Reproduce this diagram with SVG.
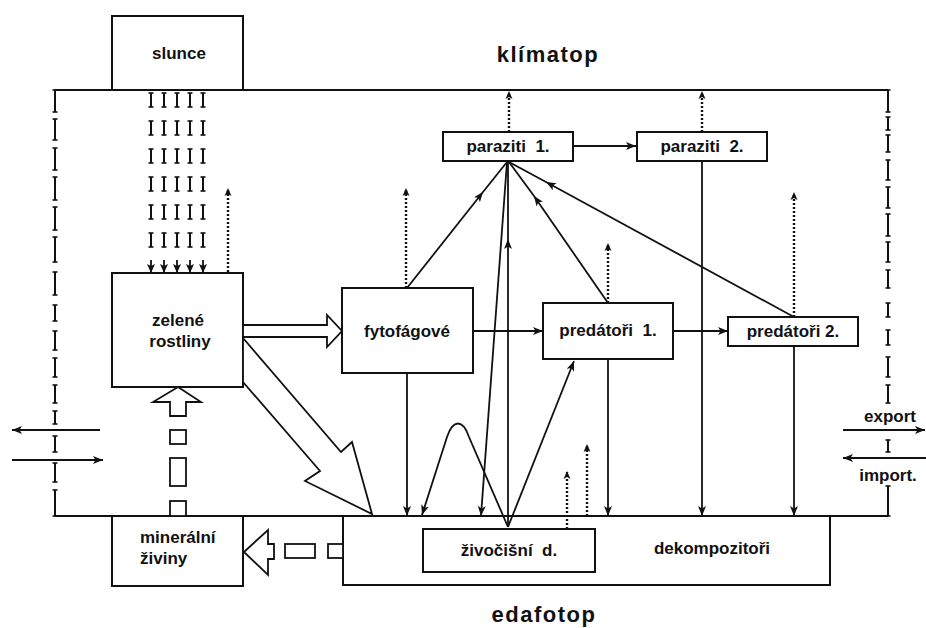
<svg xmlns="http://www.w3.org/2000/svg" width="926" height="628" viewBox="0 0 926 628">
  <style>
    .box { fill: #fff; stroke: #111; stroke-width: 2; }
    .ln { fill: none; stroke: #111; stroke-width: 1.8; }
    .arr { marker-end: url(#ah); }
    .mid { marker-mid: url(#ah); }
    .hol { fill: #fff; stroke: #111; stroke-width: 1.8; stroke-linejoin: miter; }
    .dot { fill: none; stroke: #111; stroke-width: 2.4; stroke-dasharray: 2 2; marker-end: url(#dh); }
    .serif { fill: none; stroke: #111; stroke-width: 2; marker-start: url(#tick); marker-mid: url(#tick); marker-end: url(#tick); }
    .lbl { font-family: "Liberation Sans", Arial, sans-serif; font-weight: bold; font-size: 17px; fill: #111; text-anchor: middle; }
    .big { font-size: 22px; letter-spacing: 1.5px; }
  </style>
  <defs>
    <!-- barbed solid arrowhead -->
    <marker id="ah" markerUnits="userSpaceOnUse" viewBox="0 0 10 8" refX="10" refY="4" markerWidth="10" markerHeight="8" orient="auto">
      <path d="M0,0 L10,4 L0,8 L2.5,4 z" fill="#111"/>
    </marker>
    <!-- small head for dotted (heat loss) arrows -->
    <marker id="dh" markerUnits="userSpaceOnUse" viewBox="0 0 8 8" refX="7" refY="4" markerWidth="8" markerHeight="8" orient="auto">
      <path d="M0,0.5 L8,4 L0,7.5 L2,4 z" fill="#111"/>
    </marker>
    <!-- sun ray arrowhead -->
    <marker id="rh" markerUnits="userSpaceOnUse" viewBox="0 0 9 9" refX="9" refY="4.5" markerWidth="9" markerHeight="9" orient="auto">
      <path d="M0,0.5 L9,4.5 L0,8.5 L2,4.5 z" fill="#111"/>
    </marker>
    <!-- serif tick for boundary dashes -->
    <marker id="tick" markerUnits="userSpaceOnUse" viewBox="-3 -1 6 2" refX="0" refY="0" markerWidth="6" markerHeight="2" orient="0" overflow="visible">
      <path d="M-2.5,0 H2.5" stroke="#111" stroke-width="1.6"/>
    </marker>
  </defs>

  <rect width="926" height="628" fill="#fff"/>

  <!-- ecosystem boundary -->
  <g id="frame">
    <path class="ln" d="M55,90 H888 M55,516 H888" stroke-width="2"/>
    <path class="serif" d="M55,90 V112 M55,119 V140 M55,148 V170 M55,177 V200 M55,207 V230 M55,237 V262 M55,272 V295 M55,305 V321 M55,331 V350 M55,358 V377 M55,385 V403 M55,411 V424 M55,436 V452 M55,463 V482 M55,490 V516"/>
    <path class="serif" d="M888,90 V112 M888,117 V130 M888,135 V152 M888,160 V180 M888,187 V208 M888,214 V236 M888,242 V262 M888,270 V288 M888,303 V317 M888,330 V345 M888,357 V377 M888,385 V403 M888,440 V452 M888,486 V516"/>
  </g>

  <g id="labels">
    <text class="lbl big" x="548" y="62">klímatop</text>
    <text class="lbl big" x="544" y="622">edafotop</text>
    <text class="lbl" x="890" y="422">export</text>
    <text class="lbl" x="888" y="481">import.</text>
  </g>

  <g id="slunce">
    <rect class="box" x="112" y="16" width="131" height="74"/>
    <text class="lbl" x="179" y="59">slunce</text>
  </g>
  <g id="zelene-rostliny">
    <rect class="box" x="112" y="273" width="131" height="114"/>
    <text class="lbl" x="178" y="326">zelené</text>
    <text class="lbl" x="180" y="347">rostliny</text>
  </g>
  <g id="fytofagove">
    <rect class="box" x="342" y="288" width="131" height="85"/>
    <text class="lbl" x="407" y="337">fytofágové</text>
  </g>
  <g id="predatori1">
    <rect class="box" x="543" y="303" width="130" height="56"/>
    <text class="lbl" x="608" y="336" xml:space="preserve">predátoři  1.</text>
  </g>
  <g id="predatori2">
    <rect class="box" x="728" y="317" width="130" height="29"/>
    <text class="lbl" x="793" y="337">predátoři 2.</text>
  </g>
  <g id="paraziti1">
    <rect class="box" x="443" y="132" width="130" height="29"/>
    <text class="lbl" x="508" y="152" xml:space="preserve">paraziti  1.</text>
  </g>
  <g id="paraziti2">
    <rect class="box" x="637" y="132" width="130" height="29"/>
    <text class="lbl" x="702" y="152" xml:space="preserve">paraziti  2.</text>
  </g>
  <g id="mineralni-ziviny">
    <rect class="box" x="112" y="516" width="131" height="70"/>
    <text class="lbl" x="140" y="543" text-anchor="start" style="text-anchor:start">minerální</text>
    <text class="lbl" x="140" y="564" style="text-anchor:start">živiny</text>
  </g>
  <g id="dekompozitori">
    <rect class="box" x="343" y="516" width="487" height="69"/>
    <text class="lbl" x="712" y="554">dekompozitoři</text>
  </g>
  <g id="zivocisni-d">
    <rect class="box" x="423" y="529" width="172" height="43"/>
    <text class="lbl" x="509" y="556" xml:space="preserve">živočišní  d.</text>
  </g>

  <g id="connectors">
    <!-- sunlight -->
    <path class="serif" d="M151,93 V107 M151,121 V135 M151,149 V163 M151,177 V191 M151,205 V219 M151,233 V247 M164,93 V107 M164,121 V135 M164,149 V163 M164,177 V191 M164,205 V219 M164,233 V247 M177,93 V107 M177,121 V135 M177,149 V163 M177,177 V191 M177,205 V219 M177,233 V247 M190,93 V107 M190,121 V135 M190,149 V163 M190,177 V191 M190,205 V219 M190,233 V247 M203,93 V107 M203,121 V135 M203,149 V163 M203,177 V191 M203,205 V219 M203,233 V247"/>
    <g class="ln" stroke-width="2" marker-end="url(#rh)">
      <path d="M151,260 V273"/>
      <path d="M164,260 V273"/>
      <path d="M177,260 V273"/>
      <path d="M190,260 V273"/>
      <path d="M203,260 V273"/>
    </g>

    <!-- heat losses -->
    <path class="dot" d="M228,272 V189"/>
    <path class="dot" d="M406,288 V189"/>
    <path class="dot" d="M509,132 V92"/>
    <path class="dot" d="M702,132 V92"/>
    <path class="dot" d="M608,303 V244"/>
    <path class="dot" d="M794,317 V193"/>
    <path class="dot" d="M567,529 V472"/>
    <path class="dot" d="M587,516 V445"/>

    <!-- energy flow -->
    <polygon class="hol" points="243,325 327,325 327,315 342,331 327,347 327,337 243,337"/>
    <polygon class="hol" points="243,338 341,452 352,442 372,514 305,481 320,471 243,382"/>
    <polygon class="hol" points="178,387 201,402 186,402 186,416 170,416 170,402 153,402"/>
    <rect class="hol" x="170" y="430" width="16" height="14"/>
    <rect class="hol" x="170" y="458" width="16" height="28"/>
    <rect class="hol" x="170" y="501" width="16" height="15"/>
    <polygon class="hol" points="244,552 268,530 268,544 274,544 274,559 268,559 268,575"/>
    <rect class="hol" x="285" y="544" width="30" height="14"/>
    <rect class="hol" x="328" y="544" width="15" height="14"/>

    <path class="ln arr" d="M573,146 H636"/>
    <path class="ln arr" d="M473,331 H543"/>
    <path class="ln arr" d="M673,331 H728"/>
    <path class="ln arr" d="M407,373 V516"/>
    <path class="ln arr" d="M608,359 V516"/>
    <path class="ln arr" d="M702,161 V516"/>
    <path class="ln arr" d="M794,346 V516"/>
    <path class="ln arr" d="M507,162 L481,516"/>
    <path class="ln arr" d="M508,527 L574,361"/>
    <path class="ln arr" d="M508,527 L469,437 C463,419 453,419 447,437 L422,515"/>
    <path class="ln mid" d="M508,527 L508,239 L508,162"/>
    <path class="ln mid" d="M407,288 L483,192 L507,162"/>
    <path class="ln mid" d="M608,303 L534,196 L509,162"/>
    <path class="ln mid" d="M794,317 L546,182 L509,162"/>

    <!-- export / import -->
    <path class="ln arr" d="M100,430 H12"/>
    <path class="ln arr" d="M12,460 H103"/>
    <path class="ln arr" d="M843,430 H925"/>
    <path class="ln arr" d="M926,458 H843"/>
  </g>
</svg>
